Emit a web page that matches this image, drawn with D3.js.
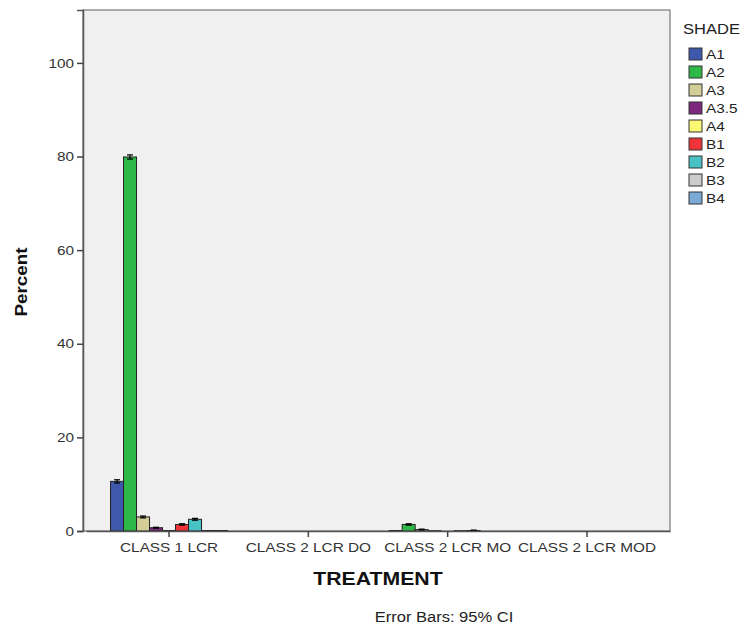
<!DOCTYPE html>
<html><head><meta charset="utf-8">
<script src="https://cdn.jsdelivr.net/npm/d3@7/dist/d3.min.js"></script>
<style>body{margin:0;background:#fff;}svg{display:block;font-family:Arial,"Liberation Sans",sans-serif;}</style>
</head><body><svg id="c" width="748" height="628"></svg>
<script>
const categories = ["CLASS 1 LCR","CLASS 2 LCR DO","CLASS 2 LCR MO","CLASS 2 LCR MOD"];
const shades = ["A1","A2","A3","A3.5","A4","B1","B2","B3","B4"];
const colors = ["#3E58AC","#2EB848","#D3CE97","#7C287D","#FBF873","#EF3338","#48C2C5","#CCCCCC","#7AAAD5"];
// values per category, in shade order
const class1Values = [10.6, 79.9, 3.0, 0.7, 0.1, 1.4, 2.5, 0.1, 0.1];
const class2DoValues = [0, 0, 0, 0, 0, 0, 0, 0, 0];
const class2MoValues = [0.1, 1.4, 0.3, 0.05, 0, 0.05, 0.1, 0, 0];
const class2ModValues = [0, 0, 0, 0, 0, 0, 0, 0, 0];
const class1Err = [0.35, 0.45, 0.2, 0.1, 0, 0.15, 0.2, 0, 0];
const class2MoErr = [0, 0.15, 0.1, 0, 0, 0, 0.1, 0, 0];
const yTicks = [0,20,40,60,80,100];

const allValues = [class1Values, class2DoValues, class2MoValues, class2ModValues];
const allErr = [class1Err, null, class2MoErr, null];

const svg = d3.select("#c");
const L = 83, R = 670, T = 10, B = 531;
const FONT = "Arial,'Liberation Sans',sans-serif";

svg.append("rect").attr("x",L).attr("y",T).attr("width",R-L).attr("height",B-T)
  .attr("fill","#F0F0F0").attr("stroke","#777").attr("stroke-width",1.2);

const x0 = d3.scaleBand().domain(categories).range([L+3,R]).paddingInner(0).paddingOuter(0.096);
const y = d3.scaleLinear().domain([0,111.3]).range([B,T]);
const x1 = d3.scaleBand().domain(shades).range([0,117]);

const data = [];
categories.forEach((c,ci)=>{
  shades.forEach((s,si)=>{
    data.push({c, s, v: allValues[ci][si], e: allErr[ci] ? allErr[ci][si] : 0, col: colors[si]});
  });
});

const cx = c => x0(c) + x0.bandwidth()/2;
const g = svg.append("g");
g.selectAll("rect.bar").data(data).enter().append("rect").attr("class","bar")
  .attr("x", d => cx(d.c) - 58.5 + x1(d.s))
  .attr("width", x1.bandwidth())
  .attr("y", d => y(d.v))
  .attr("height", d => B - y(d.v))
  .attr("fill", d => d.col).attr("stroke","#222").attr("stroke-width",1);

data.filter(d => d.e > 0).forEach(d=>{
  const mx = cx(d.c) - 58.5 + x1(d.s) + x1.bandwidth()/2;
  g.append("line").attr("x1",mx).attr("x2",mx).attr("y1",y(d.v+d.e)).attr("y2",y(Math.max(0,d.v-d.e))).attr("stroke","#000").attr("stroke-width",1.2);
  g.append("line").attr("x1",mx-3).attr("x2",mx+3).attr("y1",y(d.v+d.e)).attr("y2",y(d.v+d.e)).attr("stroke","#000").attr("stroke-width",1.2);
  g.append("line").attr("x1",mx-3).attr("x2",mx+3).attr("y1",y(Math.max(0,d.v-d.e))).attr("y2",y(Math.max(0,d.v-d.e))).attr("stroke","#000").attr("stroke-width",1.2);
});

// Y axis
const ya = svg.append("g").attr("transform",`translate(${L},0)`)
  .call(d3.axisLeft(y).tickValues(yTicks).tickSize(6).tickPadding(3));
ya.select(".domain").attr("stroke","#555").attr("stroke-width",1.5);
ya.selectAll(".tick line").attr("stroke","#444").attr("stroke-width",1.5);
ya.selectAll("text").attr("font-size",13).attr("fill","#333").attr("font-family",FONT);

// X axis
const xa = svg.append("g").attr("transform",`translate(0,${B})`)
  .call(d3.axisBottom(x0).tickSize(6).tickPadding(6).tickSizeOuter(0));
xa.select(".domain").attr("stroke","#555").attr("stroke-width",1.5);
xa.selectAll(".tick line").attr("stroke","#444").attr("stroke-width",1.5);
xa.selectAll("text").attr("font-size",13).attr("fill","#333").attr("font-family",FONT);

svg.append("text").attr("transform","translate(27,282) rotate(-90)").attr("text-anchor","middle")
  .attr("font-weight","bold").attr("font-size",16).attr("fill","#111").text("Percent");
svg.append("text").attr("x",378).attr("y",585).attr("text-anchor","middle")
  .attr("font-weight","bold").attr("font-size",18).attr("fill","#111").text("TREATMENT");
svg.append("text").attr("x",444).attr("y",622).attr("text-anchor","middle")
  .attr("font-size",14).attr("fill","#222").text("Error Bars: 95% CI");

// Legend
const lg = svg.append("g");
lg.append("text").attr("x",683).attr("y",34).attr("font-size",14).attr("fill","#222").text("SHADE");
shades.forEach((s,i)=>{
  const yy = 48 + i*18;
  lg.append("rect").attr("x",689).attr("y",yy).attr("width",13).attr("height",12)
    .attr("fill",colors[i]).attr("stroke","#333").attr("stroke-width",1);
  lg.append("text").attr("x",706).attr("y",yy+11).attr("font-size",13).attr("fill","#222").text(s);
});

// reference text is rendered horizontally wider than plain Arial: stretch glyphs
svg.selectAll("text").each(function(){
  const len = this.getComputedTextLength();
  d3.select(this).attr("textLength", len*1.18).attr("lengthAdjust","spacingAndGlyphs");
});
</script></body></html>
